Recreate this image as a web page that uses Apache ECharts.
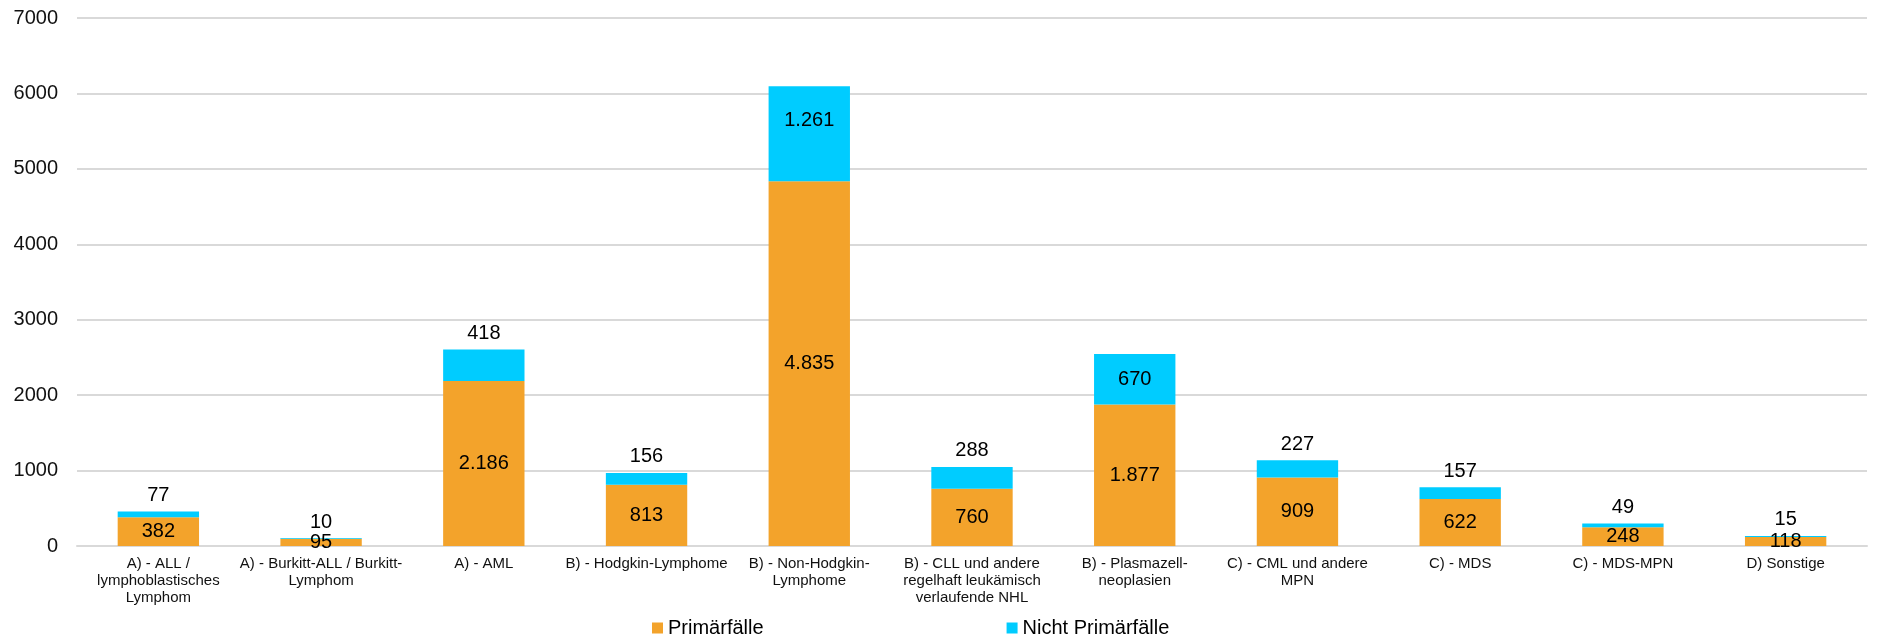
<!DOCTYPE html>
<html>
<head>
<meta charset="utf-8">
<script src="https://cdn.jsdelivr.net/npm/echarts@6/dist/echarts.min.js"></script>
<style>html,body{margin:0;padding:0;background:#fff}#c{width:1891px;height:634px}</style>
</head>
<body>
<div id="c"></div>
<script>
const categories = [
  "A) - ALL /\nlymphoblastisches\nLymphom",
  "A) - Burkitt-ALL / Burkitt-\nLymphom",
  "A) - AML",
  "B) - Hodgkin-Lymphome",
  "B) - Non-Hodgkin-\nLymphome",
  "B) - CLL und andere\nregelhaft leukämisch\nverlaufende NHL",
  "B) - Plasmazell-\nneoplasien",
  "C) - CML und andere\nMPN",
  "C) - MDS",
  "C) - MDS-MPN",
  "D) Sonstige"
];
const primaer = [382, 95, 2186, 813, 4835, 760, 1877, 909, 622, 248, 118];
const nichtPrimaer = [77, 10, 418, 156, 1261, 288, 670, 227, 157, 49, 15];
const yTicks = { min: 0, max: 7000, interval: 1000 };
const seriesNames = ["Primärfälle", "Nicht Primärfälle"];

const fmt = v => v.toLocaleString('de-DE');
const FONT = '"Liberation Sans", Arial, sans-serif';

function topLabel(v) {
  if (v > 1000) return { position: 'inside', offset: [0, -13] };
  if (v > 500) return { position: 'inside' };
  return { position: 'top', distance: 6 };
}

const chart = echarts.init(document.getElementById('c'));
chart.setOption({
  animation: false,
  textStyle: { fontFamily: FONT },
  grid: { left: 77, right: 24, top: 18, bottom: 88, containLabel: false },
  legend: {
    left: 647, top: 613,
    itemWidth: 11, itemHeight: 11, itemGap: 243,
    icon: 'rect',
    textStyle: { fontSize: 20, color: '#000', fontFamily: FONT },
    data: seriesNames
  },
  xAxis: {
    type: 'category',
    data: categories,
    axisTick: { show: false },
    axisLine: { show: true, lineStyle: { color: '#d9d9d9', width: 2 } },
    axisLabel: {
      interval: 0, margin: 9, fontSize: 15, lineHeight: 17,
      color: '#111', fontFamily: FONT
    }
  },
  yAxis: {
    type: 'value',
    min: yTicks.min, max: yTicks.max, interval: yTicks.interval,
    axisLine: { show: false },
    axisTick: { show: false },
    splitLine: { lineStyle: { color: '#d9d9d9', width: 2 } },
    axisLabel: { fontSize: 20, color: '#111', margin: 19, fontFamily: FONT,
      formatter: v => String(v) }
  },
  series: [
    {
      name: seriesNames[0], type: 'bar', stack: 'a', barWidth: '50%',
      data: primaer,
      itemStyle: { color: '#F3A32B' },
      label: {
        show: true, position: 'inside', fontSize: 20, color: '#000',
        fontFamily: FONT, formatter: p => fmt(p.value)
      }
    },
    {
      name: seriesNames[1], type: 'bar', stack: 'a', barWidth: '50%',
      data: nichtPrimaer.map(v => ({ value: v, label: topLabel(v) })),
      itemStyle: { color: '#00CCFF' },
      label: {
        show: true, fontSize: 20, color: '#000',
        fontFamily: FONT, formatter: p => fmt(p.value)
      }
    }
  ]
});
</script>
</body>
</html>
